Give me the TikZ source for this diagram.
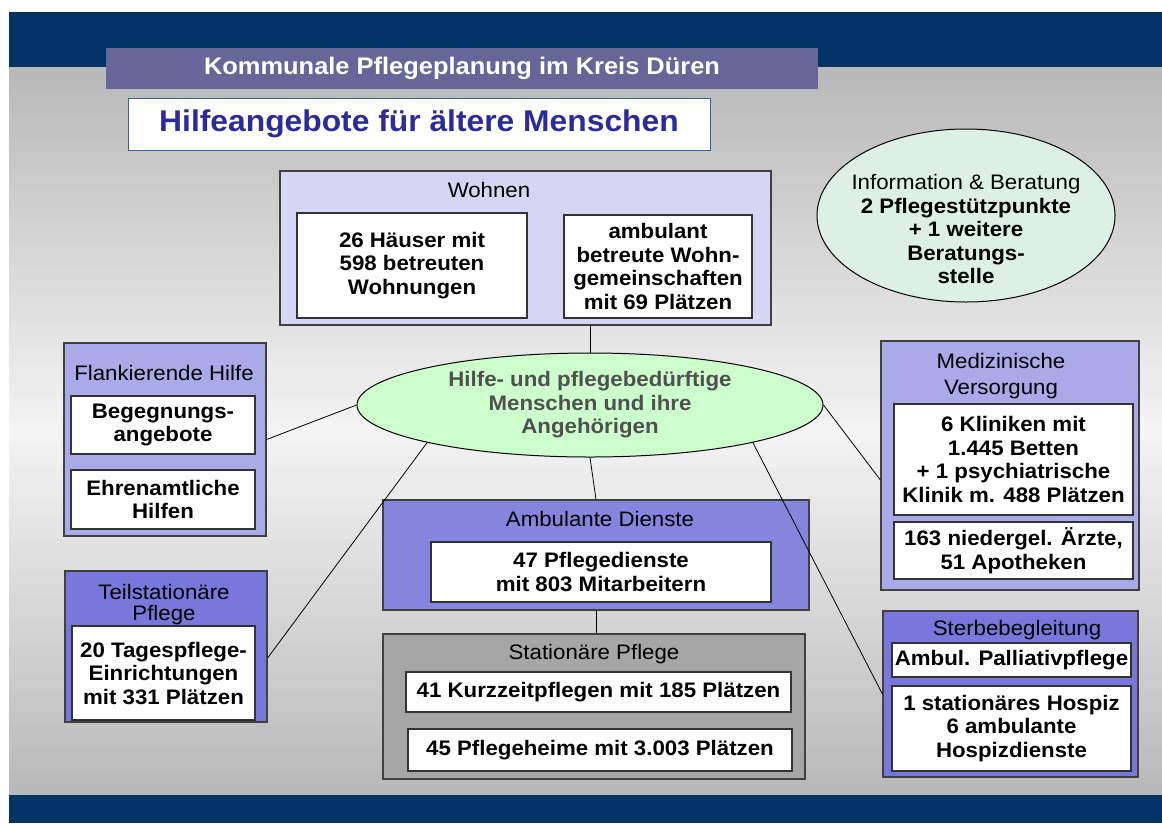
\documentclass[tikz,border=0pt]{standalone}
\usepackage{fontspec}
\setmainfont{Liberation Sans}[FakeStretch=1.06]
\usetikzlibrary{shapes.geometric}

\definecolor{bandblue}{HTML}{003366}
\definecolor{barpurple}{HTML}{666699}
\definecolor{titleblue}{HTML}{2B2B99}
\definecolor{subborder}{HTML}{336699}
\definecolor{bggray}{HTML}{B8B8B8}
\definecolor{bglight}{HTML}{F4F4F4}
\definecolor{lavlight}{HTML}{D6D6F4}
\definecolor{lavmid}{HTML}{AAAAE8}
\definecolor{lavdark}{HTML}{7878DC}
\definecolor{lavamb}{HTML}{8585DE}
\definecolor{statgray}{HTML}{A6A6A6}
\definecolor{mintfill}{HTML}{DDF0E6}
\definecolor{greenfill}{HTML}{CCFFCC}
\definecolor{hilfetext}{HTML}{505050}

\def\boxfont{\fontsize{21}{23.5}\selectfont}

\tikzset{
  grp/.style={draw=black!75, line width=1.2pt, inner sep=0pt},
  cell/.style={draw=black!80, fill=white, line width=1.2pt, align=center, inner sep=0pt, font=\boxfont\bfseries},
  grptitle/.style={align=center, inner sep=0pt, font=\boxfont},
  link/.style={draw=black, line width=0.8pt},
}

% outer box from corner (#2,#3) to (#4,#5), fill #6
\def\grpbox(#1,#2,#3,#4,#5,#6){
  \node[grp, fill=#6, minimum width=#4-#2, minimum height=#5-#3] (#1) at ({(#2+#4)/2},{(#3+#5)/2}) {};
}
% white box with bold text #6
\def\cellbox(#1,#2,#3,#4,#5,#6){
  \node[cell, minimum width=#4-#2, minimum height=#5-#3] (#1) at ({(#2+#4)/2},{(#3+#5)/2}) {#6};
}

\begin{document}
\begin{tikzpicture}[x=1pt,y=-1pt]
\useasboundingbox[fill=white] (0,0) rectangle (1162,823);
% background gradient, light in the middle
\foreach \i in {0,...,90}{
  \pgfmathsetmacro{\yy}{67+8*\i}
  \pgfmathsetmacro{\tt}{100*max(0,1-abs(\yy+4-431)/364)}
  \fill[bglight!\tt!bggray] (9,\yy) rectangle (1162,\yy+8.5);
}
\fill[bandblue] (9,12) rectangle (1162,67);
\fill[bandblue] (9,795) rectangle (1162,823);

% header
\node[fill=barpurple, minimum width=712, minimum height=41, inner sep=0pt,
      text=white, font=\fontsize{24}{28}\selectfont\bfseries] (kopf) at (462,68.5) {Kommunale Pflegeplanung im Kreis Düren};
\node[draw=subborder, fill=white, line width=1pt, minimum width=582, minimum height=52, inner sep=0pt,
      text=titleblue, font=\fontsize{30}{34}\selectfont\bfseries] (titel) at (419,124) {Hilfeangebote für ältere Menschen};

% Wohnen
\grpbox(wohnen,280,171,771,325,lavlight)
\node[grptitle] (wohnenT) at (489,190) {Wohnen};
\cellbox(w1,297,213,527,318,26 Häuser mit\\598 betreuten\\Wohnungen)
\cellbox(w2,564,215,752,318,ambulant\\betreute Wohn-\\gemeinschaften\\mit 69 Plätzen)

% Information
\node[draw=black, fill=mintfill, line width=1pt, ellipse, minimum width=298, minimum height=173] (info) at (966,215.5) {};
\node[grptitle] (infoT) at (966,229) {Information \& Beratung\\\textbf{2 Pflegestützpunkte}\\\textbf{+ 1 weitere}\\\textbf{Beratungs-}\\\textbf{stelle}};

% Flankierende Hilfe
\grpbox(flank,64,343,266,536,lavmid)
\node[grptitle] (flankT) at (164,373) {Flankierende Hilfe};
\cellbox(f1,71,396,255,454,Begegnungs-\\angebote)
\cellbox(f2,71,470,255,529,Ehrenamtliche\\Hilfen)

% Teilstationaere Pflege
\grpbox(teil,65,571,267,722,lavdark)
\node[grptitle, font=\fontsize{21}{21}\selectfont] (teilT) at (164,605) {Teilstationäre\\Pflege};
\cellbox(t1,72,626,255,720,20 Tagespflege-\\Einrichtungen\\mit 331 Plätzen)

% Ambulante Dienste
\grpbox(amb,383,500,809,610,lavamb)
\node[grptitle] (ambT) at (600,519) {Ambulante Dienste};
\cellbox(a1,431,542,771,602,47 Pflegedienste\\mit 803 Mitarbeitern)

% Stationaere Pflege
\grpbox(stat,383,634,805,779,statgray)
\node[grptitle] (statT) at (594,654) {Stationäre Pflege};
\cellbox(s1,406,672,791,712,41 Kurzzeitpflegen mit 185 Plätzen)
\cellbox(s2,408,729,792,771,45 Pflegeheime mit 3.003 Plätzen)

% Medizinische Versorgung
\grpbox(med,881,341,1139,590,lavmid)
\node[grptitle, font=\fontsize{21}{26}\selectfont] (medT) at (1001,376) {Medizinische\\Versorgung};
\cellbox(m1,894,404,1133,515,6 Kliniken mit\\1.445 Betten\\+ 1 psychiatrische\\Klinik m. 488 Plätzen)
\cellbox(m2,894,522,1133,579,163 niedergel. Ärzte{,}\\51 Apotheken)

% Sterbebegleitung
\grpbox(sterbe,883,611,1138,777,lavdark)
\node[grptitle] (sterbeT) at (1017,630) {Sterbebegleitung};
\cellbox(st1,892,643,1131,677,Ambul. Palliativpflege)
\cellbox(st2,892,686,1131,771,1 stationäres Hospiz\\6 ambulante\\Hospizdienste)

% centre
\node[draw=black, fill=greenfill, line width=1pt, ellipse, minimum width=466, minimum height=104, inner sep=0pt,
      align=center, text=hilfetext, font=\boxfont\bfseries] (hilfe) at (590,405) {Hilfe- und pflegebedürftige\\Menschen und ihre\\Angehörigen};

% connectors
\draw[link] (hilfe.north) -- (hilfe.north |- wohnen.south);
\draw[link] (hilfe.west) -- (flank.east);
\draw[link] (hilfe.193) -- ([yshift=-11.5pt]teil.east);
\draw[link] (hilfe.south) -- (amb.north);
\draw[link] (hilfe.east) -- ([yshift=-14.5pt]med.west);
\draw[link] (hilfe.347) -- (sterbe.west);
\draw[link] (amb.south) -- (amb.south |- stat.north);
\end{tikzpicture}
\end{document}
